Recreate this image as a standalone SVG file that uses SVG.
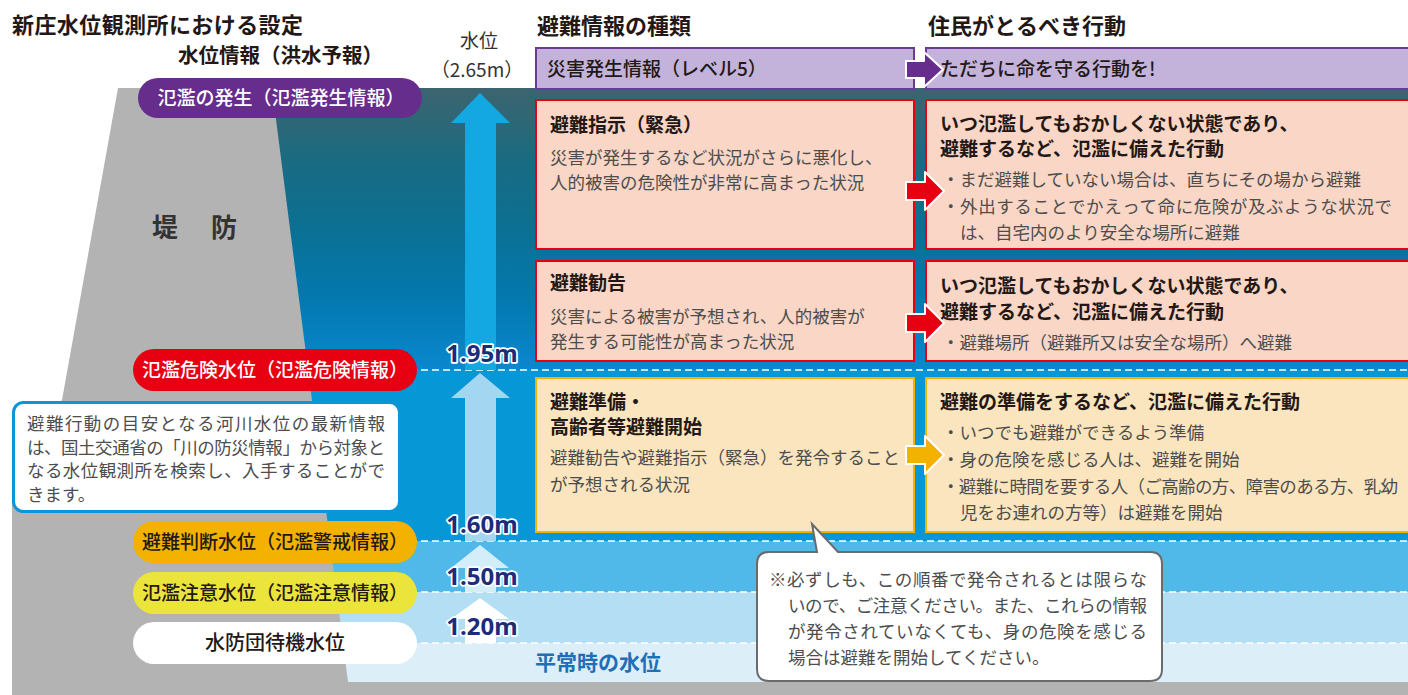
<svg xmlns="http://www.w3.org/2000/svg" width="1408" height="695" viewBox="0 0 1408 695">
<defs>
<linearGradient id="deep" x1="0" y1="0" x2="0" y2="1">
<stop offset="0" stop-color="#3c6470"/>
<stop offset="0.12" stop-color="#2d6776"/>
<stop offset="0.25" stop-color="#1a6b82"/>
<stop offset="0.5" stop-color="#0b7093"/>
<stop offset="0.75" stop-color="#0379b0"/>
<stop offset="1" stop-color="#0a87cf"/>
</linearGradient>
<style>
text{font-family:"Noto Sans CJK JP","Noto Sans CJK SC",sans-serif}
.ttl{font-size:22px;font-weight:700;fill:#231815}
.pl{font-size:19px;font-weight:500}
.hd{font-size:19px;font-weight:700;fill:#231815}
.bd{font-size:17.5px;fill:#4d4d4d}
.lv{font-family:"Noto Sans","Liberation Sans",sans-serif;font-size:24px;font-weight:700;fill:#1d2b7b;stroke:#fff;stroke-width:3.5;paint-order:stroke;stroke-linejoin:round;text-anchor:middle}
.dash{stroke:#fff;stroke-width:1.6;stroke-dasharray:7 4;fill:none}
.bxP{fill:#c3b3da;stroke:#6b3a96;stroke-width:2}
.bxR{fill:#f9d6c6;stroke:#e60012;stroke-width:2}
.bxY{fill:#fbe5bf;stroke:#f2b200;stroke-width:2}
.arr{stroke:#fff;stroke-width:2;stroke-linejoin:round}
</style>
</defs>

<g id="water">
<rect x="250" y="88" width="1160" height="282" fill="url(#deep)"/>
<rect x="250" y="370" width="1160" height="171" fill="#0697d7"/>
<rect x="250" y="541" width="1160" height="51" fill="#50b9e9"/>
<rect x="250" y="592" width="1160" height="51" fill="#b4def4"/>
<rect x="250" y="643" width="1160" height="39" fill="#dceef7"/>
</g>

<g id="levee">
<polygon points="118,88 272,88 348,682 1408,682 1408,695 12,695 12,460 62,400" fill="#b3b3b3"/>
<text x="152" y="237" font-size="26" font-weight="700" fill="#333">堤</text>
<text x="211" y="237" font-size="26" font-weight="700" fill="#333">防</text>
</g>

<g id="level-lines">
<line class="dash" x1="410" y1="370" x2="1408" y2="370"/>
<line class="dash" x1="410" y1="541" x2="1408" y2="541"/>
<line class="dash" x1="410" y1="592" x2="1408" y2="592"/>
<line class="dash" x1="410" y1="643" x2="1408" y2="643"/>
</g>

<g id="level-arrows">
<polygon points="480,93 510,123 496,123 496,370 465,370 465,123 451,123" fill="#13a8e2"/>
<polygon points="480,373 510,398 496,398 496,541 465,541 465,398 451,398" fill="#a3d6f1"/>
<polygon points="480,545 509,568 496,568 496,592 465,592 465,568 451,568" fill="#d3edf9"/>
<polygon points="480,598 509,619 496,619 496,643 465,643 465,619 451,619" fill="#ffffff"/>
</g>

<g id="headings">
<text class="ttl" x="12" y="33" textLength="291">新庄水位観測所における設定</text>
<text class="ttl" x="178" y="63" style="font-size:20.5px">水位情報（洪水予報）</text>
<text x="479" y="48" font-size="19" fill="#333" text-anchor="middle">水位</text>
<text x="477" y="77" font-size="19" fill="#333" text-anchor="middle">（2.65m）</text>
<text class="ttl" x="537" y="34">避難情報の種類</text>
<text class="ttl" x="928" y="34">住民がとるべき行動</text>
</g>

<g id="level-labels">
<text class="lv" x="482" y="362">1.95m</text>
<text class="lv" x="482" y="533">1.60m</text>
<text class="lv" x="482" y="585">1.50m</text>
<text class="lv" x="482" y="635">1.20m</text>
</g>

<g id="pill-hassei">
<rect x="138" y="78" width="284" height="40" rx="20" fill="#662d8c"/>
<text class="pl" x="281" y="105" fill="#fff" text-anchor="middle">氾濫の発生（氾濫発生情報）</text>
</g>
<g id="pill-kiken">
<rect x="133" y="349" width="284" height="42" rx="21" fill="#e60012"/>
<text class="pl" x="275" y="377" fill="#fff" text-anchor="middle">氾濫危険水位（氾濫危険情報）</text>
</g>
<g id="pill-handan">
<rect x="133" y="521" width="284" height="42" rx="21" fill="#f3b200"/>
<text class="pl" x="275" y="549" fill="#231815" text-anchor="middle">避難判断水位（氾濫警戒情報）</text>
</g>
<g id="pill-chui">
<rect x="133" y="572" width="284" height="42" rx="21" fill="#ebe43b"/>
<text class="pl" x="275" y="600" fill="#231815" text-anchor="middle">氾濫注意水位（氾濫注意情報）</text>
</g>
<g id="pill-taiki">
<rect x="133" y="622" width="284" height="42" rx="21" fill="#ffffff"/>
<text class="pl" x="275" y="650" fill="#231815" text-anchor="middle" style="font-size:20px">水防団待機水位</text>
</g>

<g id="info-callout">
<rect x="13.5" y="402.5" width="386" height="109" rx="10" fill="#fff" stroke="#0a96d7" stroke-width="3"/>
<text class="bd" fill="#333"><tspan x="27" y="430" textLength="358">避難行動の目安となる河川水位の最新情報</tspan><tspan x="27" y="454" textLength="358">は、国土交通省の「川の防災情報」から対象と</tspan><tspan x="27" y="477" textLength="358">なる水位観測所を検索し、入手することがで</tspan><tspan x="27" y="501">きます。</tspan></text>
</g>

<g id="info-level5">
<rect class="bxP" x="536" y="48" width="378" height="41"/>
<text class="pl" x="547" y="76" fill="#231815">災害発生情報（レベル5）</text>
</g>
<g id="action-level5">
<rect class="bxP" x="926" y="48" width="490" height="41"/>
<text class="pl" x="940" y="76" fill="#231815">ただちに命を守る行動を!</text>
</g>

<g id="info-shiji">
<rect class="bxR" x="536" y="100" width="378" height="149"/>
<text class="hd" x="550" y="132">避難指示（緊急）</text>
<text class="bd"><tspan x="550" y="164">災害が発生するなど状況がさらに悪化し、</tspan><tspan x="550" y="189">人的被害の危険性が非常に高まった状況</tspan></text>
</g>
<g id="action-shiji">
<rect class="bxR" x="926" y="100" width="490" height="149"/>
<text class="hd"><tspan x="940" y="131">いつ氾濫してもおかしくない状態であり、</tspan><tspan x="940" y="156">避難するなど、氾濫に備えた行動</tspan></text>
<text class="bd"><tspan x="942" y="186">・まだ避難していない場合は、直ちにその場から避難</tspan><tspan x="942" y="213" textLength="450">・外出することでかえって命に危険が及ぶような状況で</tspan><tspan x="960" y="239">は、自宅内のより安全な場所に避難</tspan></text>
</g>

<g id="info-kankoku">
<rect class="bxR" x="536" y="261" width="378" height="100"/>
<text class="hd" x="550" y="290">避難勧告</text>
<text class="bd"><tspan x="550" y="323">災害による被害が予想され、人的被害が</tspan><tspan x="550" y="348">発生する可能性が高まった状況</tspan></text>
</g>
<g id="action-kankoku">
<rect class="bxR" x="926" y="261" width="490" height="100"/>
<text class="hd"><tspan x="940" y="293">いつ氾濫してもおかしくない状態であり、</tspan><tspan x="940" y="319">避難するなど、氾濫に備えた行動</tspan></text>
<text class="bd" x="942" y="349">・避難場所（避難所又は安全な場所）へ避難</text>
</g>

<g id="info-junbi">
<rect class="bxY" x="536" y="378" width="378" height="154"/>
<text class="hd"><tspan x="550" y="409">避難準備・</tspan><tspan x="550" y="434">高齢者等避難開始</tspan></text>
<text class="bd"><tspan x="550" y="464">避難勧告や避難指示（緊急）を発令すること</tspan><tspan x="550" y="491">が予想される状況</tspan></text>
</g>
<g id="action-junbi">
<rect class="bxY" x="926" y="378" width="490" height="154"/>
<text class="hd" x="940" y="409">避難の準備をするなど、氾濫に備えた行動</text>
<text class="bd"><tspan x="942" y="439">・いつでも避難ができるよう準備</tspan><tspan x="942" y="466">・身の危険を感じる人は、避難を開始</tspan><tspan x="942" y="493" textLength="456">・避難に時間を要する人（ご高齢の方、障害のある方、乳幼</tspan><tspan x="960" y="519">児をお連れの方等）は避難を開始</tspan></text>
</g>

<g id="connectors">
<polygon class="arr" fill="#662d8c" points="906,61 924,61 924,52 943,69.5 924,87 924,78 906,78"/>
<polygon class="arr" fill="#e60012" points="906,182 925,182 925,172 944,191 925,210 925,200 906,200"/>
<polygon class="arr" fill="#e60012" points="906,314 925,314 925,304 944,323 925,342 925,332 906,332"/>
<polygon class="arr" fill="#f3b200" points="906,446 925,446 925,436 944,455 925,474 925,464 906,464"/>
</g>

<g id="normal-level">
<text x="535" y="670" font-size="21" font-weight="700" fill="#1f6fb6">平常時の水位</text>
</g>

<g id="note-callout">
<path d="M769,552 L817,552 L812,524 L838,552 L1150,552 Q1162,552 1162,564 L1162,669 Q1162,681 1150,681 L769,681 Q757,681 757,669 L757,564 Q757,552 769,552 Z" fill="#fff" stroke="#6b6b6b" stroke-width="2"/>
<text class="bd" fill="#333"><tspan x="769" y="586" textLength="378">※必ずしも、この順番で発令されるとは限らな</tspan><tspan x="788" y="612" textLength="359">いので、ご注意ください。また、これらの情報</tspan><tspan x="788" y="638" textLength="359">が発令されていなくても、身の危険を感じる</tspan><tspan x="788" y="664">場合は避難を開始してください。</tspan></text>
</g>
</svg>
